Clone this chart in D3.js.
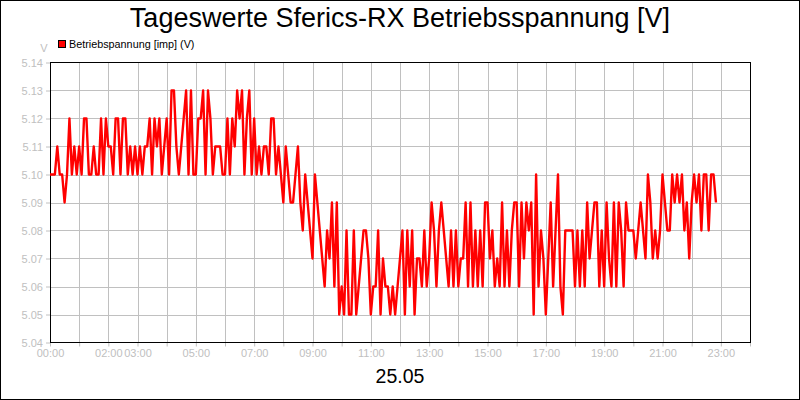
<!DOCTYPE html>
<html>
<head>
<meta charset="utf-8">
<script src="https://cdn.jsdelivr.net/npm/d3@7"></script>
<style>
  body { margin: 0; background: #fff; }
  svg { display: block; font-family: "Liberation Sans", Arial, sans-serif; }
</style>
</head>
<body>
<div id="chart"></div>
<script>
// Tageswerte, ein Wert alle 5 Minuten ab 00:00
const stepMinutes = 5;
const volts = [
  5.10, 5.10, 5.10, 5.11, 5.10, 5.10, 5.09, 5.10, 5.12, 5.10, 5.11, 5.10, // 00
  5.11, 5.10, 5.12, 5.12, 5.10, 5.10, 5.11, 5.10, 5.10, 5.12, 5.10, 5.12, // 01
  5.11, 5.11, 5.10, 5.12, 5.12, 5.10, 5.12, 5.12, 5.10, 5.11, 5.10, 5.11, // 02
  5.10, 5.11, 5.10, 5.11, 5.11, 5.12, 5.10, 5.12, 5.11, 5.12, 5.10, 5.11, // 03
  5.12, 5.10, 5.13, 5.13, 5.11, 5.10, 5.11, 5.12, 5.13, 5.10, 5.13, 5.10, // 04
  5.10, 5.12, 5.12, 5.13, 5.10, 5.13, 5.12, 5.10, 5.11, 5.11, 5.11, 5.10, // 05
  5.10, 5.12, 5.10, 5.12, 5.11, 5.13, 5.12, 5.13, 5.10, 5.12, 5.13, 5.10, // 06
  5.12, 5.10, 5.11, 5.10, 5.11, 5.11, 5.10, 5.12, 5.12, 5.10, 5.11, 5.10, // 07
  5.09, 5.11, 5.10, 5.09, 5.09, 5.10, 5.11, 5.09, 5.08, 5.10, 5.09, 5.08, // 08
  5.07, 5.10, 5.09, 5.08, 5.07, 5.06, 5.08, 5.07, 5.09, 5.06, 5.09, 5.05, // 09
  5.06, 5.05, 5.08, 5.05, 5.05, 5.08, 5.05, 5.06, 5.07, 5.08, 5.08, 5.07, // 10
  5.05, 5.06, 5.06, 5.08, 5.05, 5.07, 5.06, 5.06, 5.05, 5.06, 5.05, 5.06, // 11
  5.07, 5.08, 5.05, 5.08, 5.06, 5.08, 5.05, 5.07, 5.07, 5.06, 5.08, 5.06, // 12
  5.07, 5.09, 5.08, 5.06, 5.08, 5.09, 5.08, 5.07, 5.06, 5.08, 5.06, 5.08, // 13
  5.06, 5.07, 5.07, 5.09, 5.06, 5.09, 5.06, 5.08, 5.06, 5.08, 5.06, 5.09, // 14
  5.09, 5.07, 5.08, 5.06, 5.07, 5.06, 5.09, 5.06, 5.08, 5.06, 5.08, 5.09, // 15
  5.09, 5.06, 5.09, 5.07, 5.09, 5.08, 5.09, 5.05, 5.10, 5.06, 5.08, 5.07, // 16
  5.05, 5.07, 5.09, 5.06, 5.08, 5.10, 5.06, 5.05, 5.08, 5.08, 5.08, 5.08, // 17
  5.06, 5.08, 5.06, 5.08, 5.06, 5.09, 5.07, 5.08, 5.09, 5.09, 5.06, 5.08, // 18
  5.06, 5.09, 5.07, 5.06, 5.09, 5.06, 5.09, 5.08, 5.06, 5.09, 5.08, 5.08, // 19
  5.08, 5.07, 5.08, 5.09, 5.08, 5.07, 5.10, 5.09, 5.07, 5.08, 5.07, 5.08, // 20
  5.10, 5.09, 5.08, 5.08, 5.10, 5.09, 5.10, 5.09, 5.10, 5.08, 5.09, 5.07, // 21
  5.09, 5.10, 5.09, 5.10, 5.08, 5.10, 5.10, 5.08, 5.10, 5.10, 5.09        // 22
];
const yTicks = [5.04, 5.05, 5.06, 5.07, 5.08, 5.09, 5.10, 5.11, 5.12, 5.13, 5.14];
const xTickHours = [0, 2, 3, 5, 7, 9, 11, 13, 15, 17, 19, 21, 23];
const xTickLabels = ["00:00", "02:00", "03:00", "05:00", "07:00", "09:00", "11:00",
                     "13:00", "15:00", "17:00", "19:00", "21:00", "23:00"];
const titleText = "Tageswerte Sferics-RX Betriebsspannung [V]";
const legendText = "Betriebspannung [imp] (V)";
const dateText = "25.05";

const width = 800, height = 400;
const plotLeft = 50, plotRight = 750, plotTop = 62.5, plotBottom = 342.5;
const grey = "#c0c0c0";

const x = d3.scaleLinear().domain([0, 24]).range([plotLeft, plotRight]);
const y = d3.scaleLinear().domain([5.04, 5.14]).range([plotBottom, plotTop]);

const data = volts.map((v, i) => ({ h: i * stepMinutes / 60, v }));

const svg = d3.select("#chart").append("svg")
  .attr("width", width)
  .attr("height", height);

svg.append("rect")
  .attr("x", 0.5).attr("y", 0.5)
  .attr("width", width - 1).attr("height", height - 1)
  .attr("fill", "#fff").attr("stroke", "#000");

// Gitter
svg.append("g")
  .attr("stroke", grey)
  .attr("shape-rendering", "crispEdges")
  .selectAll("line")
  .data(d3.range(1, 24))
  .join("line")
    .attr("x1", d => Math.round(x(d)) + 0.5).attr("x2", d => Math.round(x(d)) + 0.5)
    .attr("y1", plotTop).attr("y2", plotBottom);

svg.append("g")
  .attr("stroke", grey)
  .attr("shape-rendering", "crispEdges")
  .selectAll("line")
  .data(yTicks.slice(1, -1))
  .join("line")
    .attr("x1", plotLeft).attr("x2", plotRight)
    .attr("y1", d => Math.round(y(d)) + 0.5).attr("y2", d => Math.round(y(d)) + 0.5);

// Achsen
const xAxis = d3.axisBottom(x)
  .tickValues(d3.range(0, 25))
  .tickSize(4)
  .tickPadding(3)
  .tickFormat(d => {
    const i = xTickHours.indexOf(d);
    return i >= 0 ? xTickLabels[i] : "";
  });

const yAxis = d3.axisLeft(y)
  .tickValues(yTicks)
  .tickSize(4)
  .tickPadding(3)
  .tickFormat(d3.format(".2f"));

const gx = svg.append("g")
  .attr("transform", `translate(0,${plotBottom})`)
  .call(xAxis);
const gy = svg.append("g")
  .attr("transform", `translate(${plotLeft},0)`)
  .call(yAxis);

[gx, gy].forEach(g => {
  g.select(".domain").remove();
  g.selectAll(".tick line").attr("stroke", grey);
  g.selectAll(".tick text")
    .attr("fill", grey)
    .style("font-size", "11px")
    .style("font-family", "'Liberation Sans', Arial, sans-serif");
});

// Rahmen
svg.append("rect")
  .attr("x", plotLeft).attr("y", plotTop)
  .attr("width", plotRight - plotLeft).attr("height", plotBottom - plotTop)
  .attr("fill", "none").attr("stroke", "#000")
  .attr("shape-rendering", "crispEdges");

// Messwerte
const line = d3.line()
  .x(d => x(d.h))
  .y(d => y(d.v));

svg.append("path")
  .datum(data)
  .attr("fill", "none")
  .attr("stroke", "#ff0000")
  .attr("stroke-width", 2.4)
  .attr("stroke-linejoin", "round")
  .attr("d", line);

// Texte
svg.append("text")
  .attr("x", 400).attr("y", 27)
  .attr("text-anchor", "middle")
  .style("font-size", "27px")
  .text(titleText);

svg.append("text")
  .attr("x", 44).attr("y", 52)
  .attr("text-anchor", "middle")
  .attr("fill", grey)
  .style("font-size", "11px")
  .text("V");

svg.append("rect")
  .attr("x", 58.5).attr("y", 40.5)
  .attr("width", 7).attr("height", 7)
  .attr("fill", "#ff0000").attr("stroke", "#000");

svg.append("text")
  .attr("x", 69).attr("y", 47.5)
  .style("font-size", "10.8px")
  .text(legendText);

svg.append("text")
  .attr("x", 400).attr("y", 383)
  .attr("text-anchor", "middle")
  .style("font-size", "19.5px")
  .text(dateText);
</script>
</body>
</html>
